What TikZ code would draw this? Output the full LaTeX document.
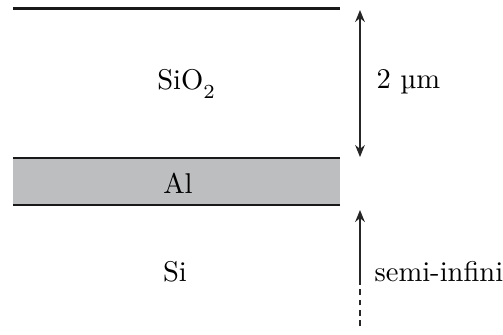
\documentclass[tikz,border=0pt]{standalone}
\usetikzlibrary{arrows.meta}
\definecolor{algray}{RGB}{189,190,192}
\begin{document}
\begin{tikzpicture}[x=0.35pt,y=-0.35pt,
  layer/.style={line width=0.75pt,black!90},
  tip/.tip={Stealth[length=4.2pt,width=3.4pt]},
  dimarrow/.style={line width=0.45pt,black!85,-tip},
  lbl/.style={inner sep=0pt,font=\normalsize}]
\useasboundingbox (0,0) rectangle (503,334);
\fill[white] (0,0) rectangle (503,334);
% layers
\fill[algray] (13,158) rectangle (340,205);
\draw[layer] (13,8.5) -- (340,8.5);
\draw[layer] (13,158) -- (340,158);
\draw[layer] (13,205) -- (340,205);
% labels
\node[lbl,anchor=base] (sio2) at (186,89) {SiO\raisebox{-3.2pt}{\scriptsize 2}};
\node[lbl] (al) at (178,183) {Al};
\node[lbl] (si) at (175,272) {Si};
% dimension arrows
\coordinate (t1) at (360,10);
\coordinate (b1) at (360,157);
\draw[dimarrow,tip-tip] (b1) -- (t1);
\node[lbl,anchor=west] (thk) at (376,82) {2 \textmu m};
\coordinate (s0) at (360,326);
\coordinate (s1) at (360,283);
\coordinate (s2) at (360,210);
\draw[line width=0.45pt,black!85,dash pattern=on 2pt off 1.6pt] (s0) -- (s1);
\draw[dimarrow] (s1) -- (s2);
\node[lbl,anchor=west] (semi) at (374,272) {semi-infini};
\end{tikzpicture}
\end{document}
